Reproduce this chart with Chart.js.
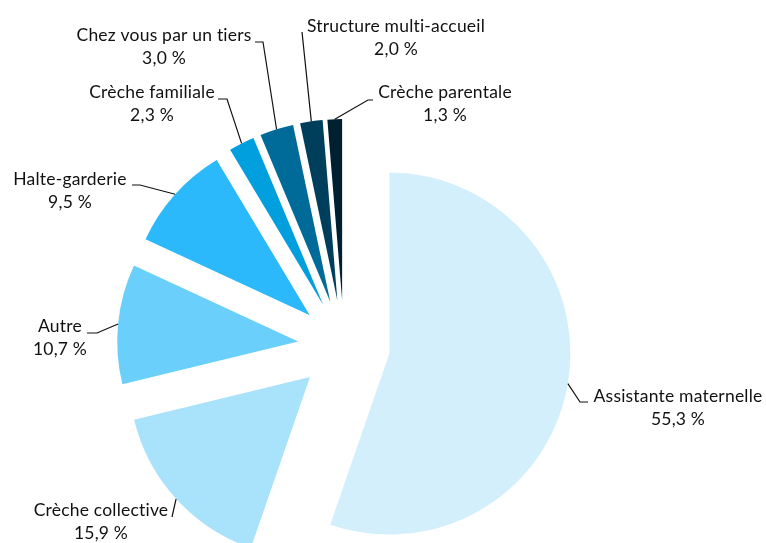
<!DOCTYPE html>
<html lang="fr">
<head>
<meta charset="utf-8">
<title>Mode de garde</title>
<script src="https://cdn.jsdelivr.net/npm/chart.js@4.4.1/dist/chart.umd.min.js"></script>
<style>
  html, body { margin: 0; padding: 0; background: #ffffff; }
  #wrap { width: 766px; height: 543px; }
</style>
</head>
<body>
<div id="wrap"><canvas id="pie" width="766" height="543"></canvas></div>
<script>
// data
const categories = [
  "Assistante maternelle",
  "Crèche collective",
  "Autre",
  "Halte-garderie",
  "Crèche familiale",
  "Chez vous par un tiers",
  "Structure multi-accueil",
  "Crèche parentale"
];
const shares = [55.3, 15.9, 10.7, 9.5, 2.3, 3.0, 2.0, 1.3];
const colors = ["#d3effc", "#a8e2fb", "#6bcffb", "#2bb9fb", "#029fdf", "#006a99", "#003f5c", "#002030"];

// label layout, relative to the pie centre: text centre / first baseline, leader knee and end
const labelLayout = [
  { tx: 334,  ty: 56,   knee: [236, 56],   end: [244, 56] },
  { tx: -243, ty: 170,  knee: [-172, 171], end: [-172, 171] },
  { tx: -284, ty: -14,  knee: [-247, -13], end: [-257, -13] },
  { tx: -274, ty: -161, knee: [-204, -161], end: [-212, -161] },
  { tx: -192, ty: -248, knee: [-117, -247], end: [-126, -247] },
  { tx: -180, ty: -305, knee: [-81, -304], end: [-89, -304] },
  { tx: 52,   ty: -314, knee: [-42, -314], end: [-42, -314] },
  { tx: 101,  ty: -248, knee: [24, -246],  end: [29, -246] }
];

const RADIUS = 181;
const EXPLODE = 46;
const FONT = '17.5px Lato, "Open Sans", sans-serif';
const LINE_GAP = 23;

const fmt = v => v.toFixed(1).replace('.', ',') + ' %';

// every slice pulled out along its mid angle
const explodePlugin = {
  id: 'explode',
  beforeDatasetDraw(chart, args) {
    const ctx = chart.ctx;
    args.meta.data.forEach(arc => {
      const mid = (arc.startAngle + arc.endAngle) / 2;
      ctx.save();
      ctx.translate(Math.cos(mid) * EXPLODE, Math.sin(mid) * EXPLODE);
      arc.draw(ctx);
      ctx.restore();
    });
    return false;
  }
};

// two-line labels with leader lines from the outer edge
const labelPlugin = {
  id: 'labels',
  afterDatasetsDraw(chart) {
    const ctx = chart.ctx;
    const meta = chart.getDatasetMeta(0);
    ctx.save();
    ctx.font = FONT;
    ctx.letterSpacing = '0.2px';
    ctx.fillStyle = '#111111';
    ctx.strokeStyle = '#111111';
    ctx.lineWidth = 1.2;
    ctx.textAlign = 'center';
    ctx.textBaseline = 'alphabetic';
    meta.data.forEach((arc, i) => {
      const cx = arc.x, cy = arc.y;
      const mid = (arc.startAngle + arc.endAngle) / 2;
      const r = arc.outerRadius + EXPLODE;
      const lay = labelLayout[i];
      ctx.beginPath();
      ctx.moveTo(cx + Math.cos(mid) * r, cy + Math.sin(mid) * r);
      ctx.lineTo(cx + lay.knee[0], cy + lay.knee[1]);
      ctx.lineTo(cx + lay.end[0], cy + lay.end[1]);
      ctx.stroke();
      ctx.fillText(categories[i], cx + lay.tx, cy + lay.ty);
      ctx.fillText(fmt(shares[i]), cx + lay.tx, cy + lay.ty + LINE_GAP);
    });
    ctx.restore();
  }
};

new Chart(document.getElementById('pie'), {
  type: 'pie',
  data: {
    labels: categories,
    datasets: [{
      data: shares,
      backgroundColor: colors,
      borderWidth: 0
    }]
  },
  options: {
    responsive: false,
    animation: false,
    devicePixelRatio: 1,
    radius: RADIUS,
    layout: { padding: { left: 0, right: 78, top: 149, bottom: 0 } },
    plugins: {
      legend: { display: false },
      tooltip: { enabled: false }
    }
  },
  plugins: [explodePlugin, labelPlugin]
});
</script>
</body>
</html>
